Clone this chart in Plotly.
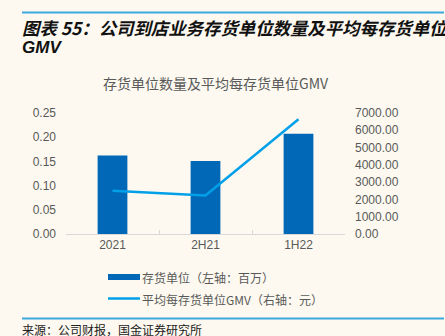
import plotly.graph_objects as go

# Data
periods = ["2021", "2H21", "1H22"]
inventory_units = [0.162, 0.151, 0.207]          # 百万
gmv_per_unit = [2500, 2230, 6640]                # 元
left_ticks = [0, 0.05, 0.10, 0.15, 0.20, 0.25]
right_ticks = [0, 1000, 2000, 3000, 4000, 5000, 6000, 7000]

W, H = 445, 336
BG = "#FDF9F0"
BAR_C = "#0068B7"
LINE_C = "#00A0E9"
RULE_C = "#3DA8DE"
TXT_C = "#595959"
CJK = "Noto Sans CJK SC"
LAT = "Liberation Sans, Arial, " + CJK
CLEAR = "rgba(0,0,0,0)"

L, R, T, B = 66, 100, 113, 102
pw = W - L - R
ph = H - T - B


def to_paper_x(x):
    return (x - L) / pw


def to_paper_y(y):
    return (H - B - y) / ph


fig = go.Figure()
fig.add_trace(go.Bar(
    x=periods, y=inventory_units, marker=dict(color=BAR_C, line=dict(width=0)),
    name="存货单位（左轴：百万）", yaxis="y", showlegend=False,
))
fig.add_trace(go.Scatter(
    x=periods, y=gmv_per_unit, mode="lines", line=dict(color=LINE_C, width=2.5),
    name="平均每存货单位GMV（右轴：元）", yaxis="y2", showlegend=False,
))

shapes = []
# header and footer rules
for yy in (12.5, 318.5):
    shapes.append(dict(type="line", xref="paper", yref="paper",
                       x0=to_paper_x(22), x1=to_paper_x(444),
                       y0=to_paper_y(yy), y1=to_paper_y(yy),
                       line=dict(color=RULE_C, width=2)))
# legend swatches
shapes.append(dict(type="rect", xref="paper", yref="paper",
                   x0=to_paper_x(108), x1=to_paper_x(140),
                   y0=to_paper_y(274), y1=to_paper_y(280),
                   fillcolor=BAR_C, line=dict(width=0)))
shapes.append(dict(type="line", xref="paper", yref="paper",
                   x0=to_paper_x(108), x1=to_paper_x(140),
                   y0=to_paper_y(298.5), y1=to_paper_y(298.5),
                   line=dict(color=LINE_C, width=2.5)))


def note(text, x, y, size, family, color, xanchor="left"):
    return dict(text=text, xref="paper", yref="paper", x=to_paper_x(x), y=to_paper_y(y),
                xanchor=xanchor, yanchor="middle", align="left", showarrow=False,
                bgcolor=CLEAR, borderwidth=0, borderpad=0,
                font=dict(family=family, size=size, color=color))


annotations = [
    note("<b><i>图表 55：公司到店业务存货单位数量及平均每存货单位GMV</i></b>",
         22, 28, 17.4, CJK, "#111111"),
    note("<b><i>GMV</i></b>", 22, 47, 17, LAT, "#111111"),
    note("存货单位数量及平均每存货单位GMV", 216, 83, 14, CJK, TXT_C, xanchor="center"),
    note("存货单位（左轴：百万）", 142, 277, 12, CJK, TXT_C),
    note("平均每存货单位GMV（右轴：元）", 142, 299, 12, CJK, TXT_C),
    note("来源：公司财报，国金证券研究所", 22, 329, 12, CJK, "#222222"),
]

fig.update_layout(
    width=W, height=H,
    margin=dict(l=L, r=R, t=T, b=B, pad=0),
    paper_bgcolor=BG, plot_bgcolor=BG,
    bargap=0.68,
    showlegend=False,
    shapes=shapes,
    annotations=annotations,
    xaxis=dict(
        type="category", showgrid=False, zeroline=False,
        showline=True, linecolor="#D9D9D9", linewidth=1,
        ticks="inside", ticklen=4, tickcolor="#D9D9D9", tickson="boundaries",
        tickfont=dict(family=LAT, size=12, color=TXT_C),
        fixedrange=True,
    ),
    yaxis=dict(
        range=[0, 0.25], tickvals=left_ticks, tickformat=".2f",
        showgrid=False, zeroline=False, showline=False,
        ticklabelstandoff=9,
        tickfont=dict(family=LAT, size=12, color=TXT_C),
    ),
    yaxis2=dict(
        range=[0, 7000], tickvals=right_ticks, tickformat=".2f",
        overlaying="y", side="right",
        showgrid=False, zeroline=False, showline=False,
        ticklabelstandoff=9,
        tickfont=dict(family=LAT, size=12, color=TXT_C),
    ),
)

fig.write_html("out.html")
